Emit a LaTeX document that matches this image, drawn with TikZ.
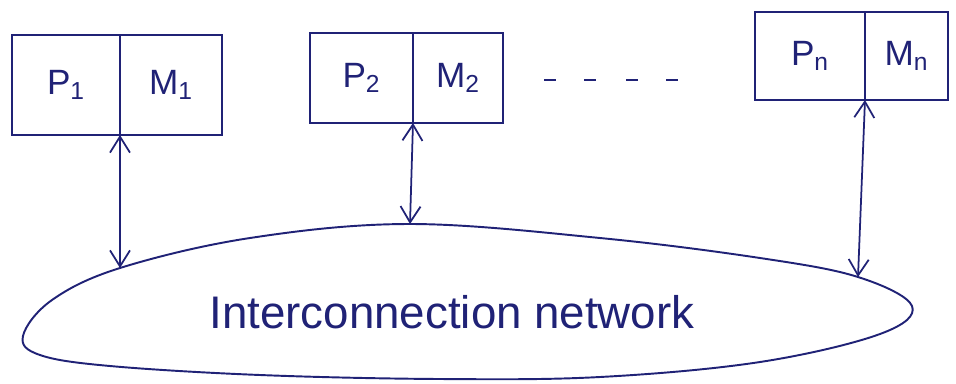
\documentclass[tikz,border=0pt]{standalone}
\usepackage{fontspec}
\setmainfont{Liberation Sans}
\usetikzlibrary{arrows.meta}
\definecolor{ink}{RGB}{32,34,118}
\begin{document}
\begin{tikzpicture}[x=0.02cm,y=-0.02cm,
  ink line/.style={draw=ink,line width=1.1pt},
  cell/.style={ink line,inner sep=0pt,outer sep=0pt,font=\fontsize{20}{24}\selectfont,text=ink},
  link/.style={draw=ink,line width=1pt,{Straight Barb[length=3.2mm,width=4mm]}-{Straight Barb[length=3.2mm,width=4mm]}}]
\useasboundingbox (0,0) rectangle (956,383);
% processor / memory pairs
\node[cell,minimum width=2.16cm,minimum height=2cm] (P1) at (66,85) {P\textsubscript{1}};
\node[cell,minimum width=2.04cm,minimum height=2cm] (M1) at (171,85) {M\textsubscript{1}};
\node[cell,minimum width=2.06cm,minimum height=1.8cm] (P2) at (361.5,78) {P\textsubscript{2}};
\node[cell,minimum width=1.8cm,minimum height=1.8cm] (M2) at (458,78) {M\textsubscript{2}};
\node[cell,minimum width=2.2cm,minimum height=1.76cm] (Pn) at (810,56) {P\textsubscript{n}};
\node[cell,minimum width=1.66cm,minimum height=1.76cm] (Mn) at (906.5,56) {M\textsubscript{n}};
% ellipsis for the further pairs
\foreach \x in {550,590,632,672}
  \draw[ink line] (\x-6,80) -- (\x+6,80);
% interconnection network outline
\coordinate (e1) at (120,268);
\coordinate (e2) at (410,224);
\coordinate (e3) at (858,277);
\draw[ink line] plot[smooth cycle,tension=0.6] coordinates {
  (23,336) (52,300) (e1) (250,238) (e2) (600,238) (760,258) (e3) (912,306)
  (880,334) (760,362) (600,377) (440,379) (260,375) (110,366) (40,355)};
\node[text=ink,font=\fontsize{26}{30}\selectfont] (net) at (452,312) {Interconnection network};
% links to the network
\draw[link] (P1.south east) -- (e1);
\draw[link] (P2.south east) -- (e2);
\draw[link] (Pn.south east) -- (e3);
\end{tikzpicture}
\end{document}
